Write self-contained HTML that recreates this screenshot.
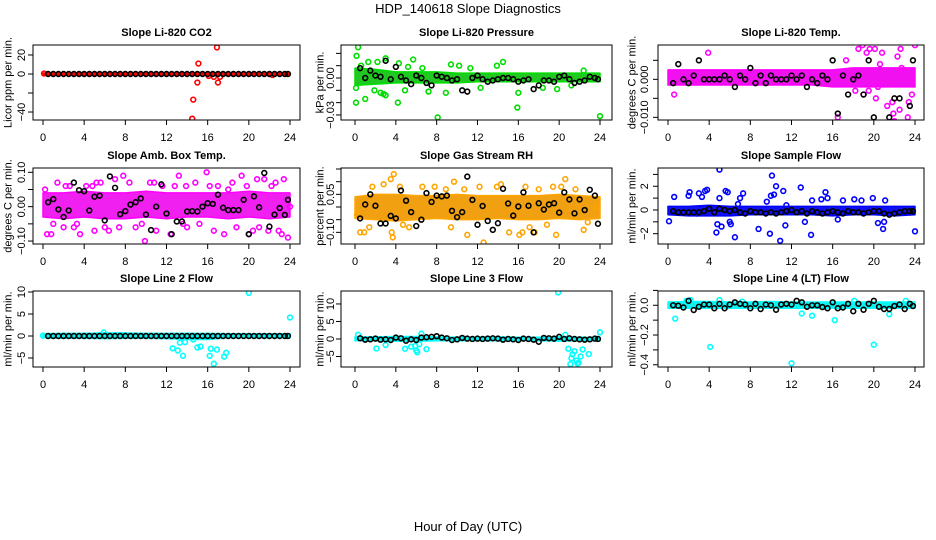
<!DOCTYPE html>
<html><head><meta charset="utf-8"><style>
html,body{margin:0;padding:0;background:#fff}
svg{display:block;font-family:"Liberation Sans",sans-serif}
</style></head><body>
<svg id="chart" width="936" height="540" viewBox="0 0 936 540" xmlns="http://www.w3.org/2000/svg">
<text x="468" y="13" text-anchor="middle" font-size="13">HDP_140618  Slope Diagnostics</text>
<text x="468" y="531" text-anchor="middle" font-size="13">Hour of Day (UTC)</text>
</svg>
<script>
// ---- shared hours for black (reference) series ----
const blkHours=[0.5,1,1.5,2,2.5,3,3.5,4,4.5,5,5.5,6,6.5,7,7.5,8,8.5,9,9.5,10,10.5,11,11.5,12,12.5,13,13.5,14,14.5,15,15.5,16,16.5,17,17.5,18,18.5,19,19.5,20,20.5,21,21.5,22,22.5,23,23.5,23.8];
const bandHours=[0,2,4,6,8,10,12,14,16,18,20,22,24];
const xTicks=[0,4,8,12,16,20,24];

// P1 CO2
const p1Lo=[-1,-1,-1,-1,-1,-1,-1,-1.2,-1.2,-1,-1,-1,-1];
const p1Hi=[1,1,1,1,1,1,1,1.2,1.2,1,1,1,1];
const p1X=[14.5,14.6,15.0,15.1,16.9,17.0,16.1,16.6,17.2,0.1,22.3];
const p1Y=[-47,-27,-9,11,28,-9,-2,-3,-3,0.5,-1];
const p1B=[0,0,0,0,0,0,0,0,0,0,0,0,0,0,0,0,0,0,0,0,0,0,0,0,0,0,0,0,0,0,0,0,0,0,0,0,0,0,0,0,0,0,0,0,0,0,0,0];
// P2 pressure
const p2Lo=[-0.006,-0.005,-0.004,-0.004,-0.004,-0.004,-0.003,-0.003,-0.003,-0.003,-0.003,-0.003,-0.003];
const p2Hi=[0.008,0.007,0.005,0.005,0.005,0.004,0.004,0.004,0.004,0.004,0.004,0.004,0.004];
const p2X=[0.3,0.15,0.1,0.1,1.0,1.9,2.8,3.0,4.2,4.3,5.7,5.2,8.1,8.9,9.4,10.2,13.9,14.5,16.0,15.9,19.8,24,3.0,1.3,2.2,6.6,7.2,11.3,12.3,18.4,21.2,22.4,0.6,2.5,4.9];
const p2Y=[0.025,0.018,-0.008,-0.02,-0.017,-0.01,-0.013,-0.014,-0.02,0.012,0.015,0.009,-0.032,-0.012,0.011,0.01,0.01,0.013,-0.012,-0.024,-0.009,-0.031,0.016,0.013,0.013,0.008,-0.011,0.008,-0.008,-0.008,-0.006,0.006,0.01,-0.012,-0.01];
const p2B=[0.008,0.0,0.006,0.002,0.001,0.014,-0.001,0.009,0.001,-0.002,-0.005,0.002,0.0,-0.004,-0.006,0.002,0.001,0.0,-0.002,-0.001,-0.01,-0.011,0.0,0.002,-0.001,-0.003,-0.002,-0.001,0.0,0.0,-0.001,-0.003,-0.002,-0.001,-0.009,-0.006,-0.002,-0.002,-0.003,0.001,0.002,-0.001,-0.004,-0.003,-0.002,0.001,0.0,-0.001];
// P3 temp
const p3Lo=[-0.0015,-0.0015,-0.0015,-0.0015,-0.0015,-0.0015,-0.0015,-0.0015,-0.002,-0.002,-0.002,-0.002,-0.002];
const p3Hi=[0.0025,0.0025,0.0025,0.0025,0.0025,0.0025,0.0025,0.0025,0.0025,0.003,0.003,0.003,0.003];
const p3X=[22.1,21.4,20.3,21.0,21.2,19.9,16.5,23.3,22.5,17.3,3.9,0.6,20.1,22.9,23.6,21.8,18.5,18.9,19.3,19.6,20.6,20.9,21.6,22.3,22.7,23.0,23.9,20.2,21.3,22.0,23.4,19.0,18.2,24.0,20.8,21.9,22.6,23.7,19.5,20.4];
const p3Y=[0.017,0.014,0.01,-0.014,-0.016,-0.015,-0.01,-0.01,-0.008,0.005,0.007,-0.004,0.008,0.01,0.01,-0.006,0.008,0.009,0.007,0.008,0.004,0.011,0.012,0.006,0.003,0.01,0.01,-0.005,-0.007,-0.011,-0.006,-0.004,-0.003,0.009,0.007,-0.009,0.008,-0.004,-0.003,-0.002];
const p3B=[-0.001,0.004,0.0,-0.001,0.001,0.005,0.0,0.0,0.0,0.0,0.001,0.0,-0.002,0.001,0.0,0.003,-0.001,0.001,-0.001,0.001,0.0,0.0,0.0,0.001,0.0,0.001,-0.002,0.0,-0.001,0.001,0.0,0.005,-0.009,0.001,-0.004,0.0,0.001,-0.004,0.005,-0.01,0.014,-0.012,-0.01,-0.005,-0.005,-0.021,-0.007,0.005];
// P4 amb temp
const p4Lo=[-0.03,-0.035,-0.03,-0.035,-0.035,-0.03,-0.035,-0.03,-0.03,-0.035,-0.03,-0.035,-0.03];
const p4Hi=[0.04,0.04,0.045,0.04,0.04,0.045,0.04,0.04,0.04,0.04,0.045,0.04,0.04];
const p4X=[0.2,0.8,1.4,2.0,3.6,4.2,5.0,5.6,6.4,7.0,7.8,9.0,9.9,10.8,11.6,12.4,13.2,13.6,14.8,15.9,16.6,17.6,18.4,19.3,20.0,20.8,21.5,22.2,22.9,23.4,23.8,1.0,2.6,3.0,4.8,6.0,8.4,9.6,10.4,12.8,14.0,15.2,17.0,18.8,19.8,21.0,22.6,23.2,0.4,7.4,11.0,16.2,24.0,2.2,5.2,13.9,18.0,20.4,21.9,3.3];
const p4Y=[0.05,-0.08,0.07,-0.06,-0.08,0.06,-0.07,0.07,-0.07,0.08,0.09,-0.06,-0.1,0.07,0.06,-0.08,0.09,-0.05,0.07,0.1,-0.07,-0.08,0.07,0.09,-0.08,0.08,0.08,0.06,-0.07,0.08,-0.09,-0.05,0.06,-0.06,0.06,-0.06,0.07,-0.05,0.07,0.06,-0.06,-0.05,0.06,-0.06,0.06,-0.06,0.07,-0.08,-0.08,-0.06,-0.07,0.06,0.0,0.06,0.07,0.06,0.05,-0.07,-0.07,-0.05];
const p4B=[0.013,0.022,-0.008,-0.03,-0.011,0.07,0.048,0.045,-0.011,0.029,0.032,-0.04,0.088,0.055,-0.022,-0.013,0.006,0.013,0.024,-0.023,-0.068,0.0,0.065,-0.02,-0.08,-0.043,-0.043,-0.014,-0.013,-0.014,0.0,0.01,0.008,0.035,-0.003,-0.01,-0.01,-0.01,0.02,-0.08,0.03,-0.002,0.098,-0.058,-0.023,-0.004,-0.024,0.02];
// P5 RH
const p5Lo=[-0.045,-0.05,-0.055,-0.05,-0.045,-0.05,-0.05,-0.045,-0.05,-0.05,-0.045,-0.05,-0.045];
const p5Hi=[0.04,0.05,0.05,0.045,0.045,0.05,0.045,0.045,0.045,0.045,0.05,0.045,0.04];
const p5X=[0.5,0.9,1.4,1.7,3.6,3.7,3.8,3.5,4.4,6.6,7.8,8.9,9.4,9.7,11.0,12.6,13.9,14.3,15.1,16.1,16.4,16.7,17.6,18.0,18.8,19.4,19.7,20.6,21.6,22.4,23.7,4.7,5.3,2.8,10.7,12.2,17.1,20.2,22.8,0.2];
const p5Y=[-0.1,-0.1,-0.08,0.08,-0.1,-0.12,0.13,0.11,0.08,0.08,0.08,0.07,-0.08,0.1,-0.11,-0.14,0.08,0.09,-0.1,-0.11,-0.1,0.08,-0.1,0.07,-0.07,0.08,-0.11,0.11,0.07,-0.09,0.0,-0.07,-0.08,0.09,0.07,0.08,-0.08,0.08,-0.06,-0.03];
const p5B=[-0.045,0.01,0.05,0.005,-0.065,-0.065,-0.035,-0.045,0.065,0.025,-0.02,-0.075,-0.05,0.055,0.02,0.045,0.042,0.045,-0.015,-0.04,-0.02,0.12,0.028,-0.07,0.004,-0.055,-0.09,-0.064,0.072,0.014,-0.034,0.002,0.058,0.005,-0.1,0.015,-0.01,0.01,0.015,-0.022,0.058,0.03,-0.025,0.03,-0.012,0.068,0.045,-0.066];
// P6 sample flow
const p6Lo=[-0.4,-0.5,-0.5,-0.5,-0.4,-0.4,-0.4,-0.4,-0.5,-0.4,-0.4,-0.5,-0.4];
const p6Hi=[0.3,0.3,0.4,0.3,0.3,0.3,0.3,0.3,0.3,0.3,0.3,0.3,0.3];
const p6X=[0.1,0.6,2.0,2.1,3.0,3.3,3.6,3.8,4.7,4.8,5.0,5.2,5.6,5.8,6.1,6.5,6.8,7.0,7.3,8.8,9.9,10.0,10.1,10.3,10.5,10.9,11.2,11.4,12.9,13.3,13.9,14.0,14.9,15.3,15.5,17.0,18.1,18.8,19.9,20.4,20.9,21.0,21.1,24.0,2.8,5.0,9.6,11.5,6.0,16.5];
const p6Y=[-0.95,1.1,1.2,1.5,1.4,1.1,1.6,1.7,-1.9,-1.2,3.4,-1.4,1.6,1.5,-1.2,-2.3,0.5,1.0,1.4,-1.6,-2.0,1.2,2.9,1.3,2.0,-2.6,1.6,-1.3,1.9,-1.0,-2.1,0.8,0.9,1.5,1.0,0.8,0.9,0.8,1.0,-1.1,-1.6,-1.0,0.8,-1.8,-0.3,1.0,0.7,0.4,-1.0,-0.8];
const p6B=[-0.1,-0.2,-0.2,-0.2,-0.2,-0.2,-0.1,0.1,-0.2,0.1,0.0,-0.1,0.0,-0.2,-0.3,-0.1,-0.2,-0.2,-0.3,-0.2,-0.3,-0.2,-0.1,0.0,-0.2,-0.1,-0.3,-0.1,-0.2,-0.3,-0.2,-0.1,-0.2,-0.3,-0.1,-0.2,-0.2,-0.3,-0.2,-0.1,-0.1,-0.3,-0.4,-0.3,-0.2,-0.1,-0.1,-0.1];
// P7 line 2 flow
const p7Lo=[-0.4,-0.5,-0.5,-0.6,-0.5,-0.5,-0.6,-0.8,-0.8,-0.4,-0.4,-0.4,-0.4];
const p7Hi=[0.5,0.6,0.6,0.7,0.7,0.6,0.6,0.6,0.6,0.5,0.5,0.5,0.5];
const p7X=[20.0,24.0,12.6,13.1,13.6,15.0,15.3,16.2,16.3,16.6,16.9,17.6,17.8,13.3,13.8,14.6,5.9,0.0];
const p7Y=[9.8,4.2,-2.8,-3.3,-4.5,-2.6,-2.4,-4.5,-2.9,-6.3,-3.1,-4.7,-3.8,-1.5,-1.4,-0.8,0.8,0.1];
const p7B=[0,0,0,0,0,0,0,0,0,0,0,0,0,0,0,0,0,0,0,0,0,0,0,0,0,0,0,0,0,0,0,0,0,0,0,0,0,0,0,0,0,0,0,0,0,0,0,0];
// P8 line 3 flow
const p8Lo=[-0.5,-0.5,-0.6,-0.7,-0.5,-0.5,-0.5,-0.5,-0.5,-0.5,-0.6,-0.5,-0.5];
const p8Hi=[0.6,0.6,0.7,0.7,0.6,0.5,0.5,0.6,0.5,0.5,0.6,0.5,0.5];
const p8X=[19.9,24.0,0.3,2.1,3.0,4.9,5.5,5.9,6.0,6.1,6.3,6.5,7.0,20.9,21.1,21.3,21.5,21.7,21.9,22.1,22.3,22.9,21.2,21.8,20.6];
const p8Y=[13.3,1.9,1.2,-2.7,-1.7,-2.8,-2.2,-2.0,-3.3,-3.8,-1.5,1.5,-2.9,-2.8,-7.2,-4.4,-3.5,-6.2,-6.8,-5.0,-3.0,-4.3,-5.5,-7.0,1.2];
const p8B=[0.2,-0.2,-0.1,0.1,-0.2,-0.1,-0.3,0.4,0.2,-0.5,-0.1,-0.3,0.4,0.5,0.6,0.8,0.4,0.2,-0.3,-0.1,0.3,0.1,0.0,0.1,0.0,0.1,0.2,0.1,-0.2,0.0,-0.1,-0.3,0.1,0.0,-0.2,-0.8,0.3,0.2,0.1,0.6,0.0,0.2,0.0,-0.1,-0.2,-0.1,0.1,0.0];
// P9 line 4 flow
const p9Lo=[-0.02,-0.02,-0.02,-0.02,-0.02,-0.02,-0.02,-0.02,-0.02,-0.02,-0.02,-0.02,-0.02];
const p9Hi=[0.022,0.025,0.025,0.022,0.022,0.025,0.022,0.022,0.022,0.022,0.022,0.022,0.022];
const p9X=[0.7,4.1,12.0,20.0,16.2,1.8,2.2,5.0,7.2,14.0,18.1,23.1,13.0,21.5];
const p9Y=[-0.09,-0.28,-0.39,-0.265,-0.1,0.03,0.035,0.035,0.025,-0.07,0.03,0.03,-0.055,-0.06];
const p9B=[0.0,-0.003,-0.015,0.03,-0.032,-0.01,0.005,0.005,-0.02,0.01,-0.02,0.005,0.02,0.01,0.005,-0.02,0.01,-0.025,0.005,0.0,-0.03,0.005,0.01,0.005,0.03,0.02,-0.01,0.0,0.0,-0.012,-0.02,0.02,-0.02,-0.015,0.01,-0.04,0.01,-0.03,0.01,0.03,-0.01,-0.025,-0.025,-0.005,0.005,-0.025,0.01,-0.005];

const panels=[
 {name:'co2',title:'Slope Li-820 CO2',ylab:'Licor ppm per min.',col:0,row:0,v0:30.5,v1:-48.4,ticks:[20,0,-20,-40],labels:['20','0','','\u221240'],c:'#ff0000',fill:'#ff0000',lo:p1Lo,hi:p1Hi,px:p1X,py:p1Y,b:p1B},
 {name:'pressure',title:'Slope Li-820 Pressure',ylab:'kPa per min.',col:1,row:0,v0:0.0268,v1:-0.0341,ticks:[0.02,0.01,0,-0.01,-0.02,-0.03],labels:['','','0.00','','','\u22120.03'],c:'#00dd00',fill:'#22c822',lo:p2Lo,hi:p2Hi,px:p2X,py:p2Y,b:p2B},
 {name:'li820-temp',title:'Slope Li-820 Temp.',ylab:'degrees C per min.',col:2,row:0,v0:0.00903,v1:-0.0107,ticks:[0.005,0,-0.005,-0.01],labels:['','0.000','','\u22120.010'],c:'#ff00ff',fill:'#f010f0',lo:p3Lo,hi:p3Hi,px:p3X,py:p3Y,b:p3B},
 {name:'amb-box-temp',title:'Slope Amb. Box Temp.',ylab:'degrees C per min.',col:0,row:1,v0:0.1125,v1:-0.1086,ticks:[0.1,0.05,0,-0.05,-0.1],labels:['0.10','','0.00','','\u22120.10'],c:'#ff00ff',fill:'#f020f0',lo:p4Lo,hi:p4Hi,px:p4X,py:p4Y,b:p4B},
 {name:'gas-stream-rh',title:'Slope Gas Stream RH',ylab:'percent per min.',col:1,row:1,v0:0.154,v1:-0.146,ticks:[0.15,0.1,0.05,0,-0.05,-0.1],labels:['','','0.05','','','\u22120.10'],c:'#ffa500',fill:'#f0a010',lo:p5Lo,hi:p5Hi,px:p5X,py:p5Y,b:p5B},
 {name:'sample-flow',title:'Slope Sample Flow',ylab:'ml/min per min.',col:2,row:1,v0:3.54,v1:-2.87,ticks:[3,2,1,0,-1,-2],labels:['','2','','0','','\u22122'],c:'#0000ff',fill:'#1010f0',lo:p6Lo,hi:p6Hi,px:p6X,py:p6Y,b:p6B},
 {name:'line2-flow',title:'Slope Line 2 Flow',ylab:'ml/min per min.',col:0,row:2,v0:10.23,v1:-7.05,ticks:[10,5,0,-5],labels:['10','5','0','\u22125'],c:'#00ffff',fill:'#10f0f0',lo:p7Lo,hi:p7Hi,px:p7X,py:p7Y,b:p7B},
 {name:'line3-flow',title:'Slope Line 3 Flow',ylab:'ml/min per min.',col:1,row:2,v0:13.7,v1:-8.0,ticks:[10,5,0,-5],labels:['10','5','0','\u22125'],c:'#00ffff',fill:'#10f0f0',lo:p8Lo,hi:p8Hi,px:p8X,py:p8Y,b:p8B},
 {name:'line4-flow',title:'Slope Line 4 (LT) Flow',ylab:'ml/min per min.',col:2,row:2,v0:0.096,v1:-0.415,ticks:[0.1,0,-0.1,-0.2,-0.3,-0.4],labels:['','0.0','','\u22120.2','','\u22120.4'],c:'#00ffff',fill:'#10f0f0',lo:p9Lo,hi:p9Hi,px:p9X,py:p9Y,b:p9B}
];
const colGeom=[{l:33,r:300,x0:43,x24:290,tl:21,yl:4},{l:341,r:612,x0:355,x24:600,tl:330,yl:316},{l:658,r:924,x0:668,x24:915,tl:644,yl:628}];
const rowGeom=[{t:45,b:120},{t:168,b:244},{t:291,b:367}];
const NS='http://www.w3.org/2000/svg';
const svg=document.getElementById('chart');
function mk(tag,attrs,parent){const e=document.createElementNS(NS,tag);for(const k in attrs)e.setAttribute(k,attrs[k]);(parent||svg).appendChild(e);return e;}

panels.forEach(p=>{
  const cg=colGeom[p.col], rg=rowGeom[p.row];
  const xs=h=>cg.x0+(h/24)*(cg.x24-cg.x0);
  const ys=v=>rg.t+(p.v0-v)/(p.v0-p.v1)*(rg.b-rg.t);
  const g=mk('g',{});
  
  
  const cp=mk('clipPath',{id:'cp-'+p.name},g);
  mk('rect',{x:cg.l,y:rg.t,width:cg.r-cg.l,height:rg.b-rg.t},cp);
  const t=mk('text',{x:(cg.l+cg.r)/2,y:rg.t-9,'text-anchor':'middle','font-size':11,'font-weight':'bold'},g);
  t.textContent=p.title;
  
  
  const yl=mk('text',{x:cg.yl,y:(rg.t+rg.b)/2,'text-anchor':'middle','font-size':11,transform:`rotate(-90 ${cg.yl} ${(rg.t+rg.b)/2})`,dy:'0.7em'},g);
  yl.textContent=p.ylab;
  
  
  const data=mk('g',{'clip-path':`url(#cp-${p.name})`},g);
  let pts=[];
  bandHours.forEach((h,i)=>pts.push(xs(h)+','+ys(p.hi[i])));
  for(let i=bandHours.length-1;i>=0;i--)pts.push(xs(bandHours[i])+','+ys(p.lo[i]));
  const band=mk('polygon',{points:pts.join(' '),fill:p.fill,stroke:p.c,'stroke-width':1.5,'stroke-linejoin':'round'},data);
  
  
  p.px.forEach((h,i)=>{
    const c=mk('circle',{cx:xs(h),cy:ys(p.py[i]),r:2.4,fill:'none',stroke:p.c,'stroke-width':1.6},data);
    
    
  });
  blkHours.forEach((h,i)=>{
    const c=mk('circle',{cx:xs(h),cy:ys(p.b[i]),r:2.4,fill:'none',stroke:'#000','stroke-width':1.6},data);
    
    
  });
  const box=mk('rect',{x:cg.l,y:rg.t,width:cg.r-cg.l,height:rg.b-rg.t,fill:'none',stroke:'#000','stroke-width':1},g);
  
  
  xTicks.forEach(h=>{
    mk('line',{x1:xs(h),x2:xs(h),y1:rg.b,y2:rg.b+5,stroke:'#000'},g);
    const tx=mk('text',{x:xs(h),y:rg.b+21,'text-anchor':'middle','font-size':11},g);
    tx.textContent=h;
    
    
  });
  p.ticks.forEach((v,i)=>{
    const y=ys(v);
    mk('line',{x1:cg.l-5,x2:cg.l,y1:y,y2:y,stroke:'#000'},g);
    if(p.labels[i]){
      const tx=mk('text',{x:cg.tl,y:y,'text-anchor':'middle','font-size':11,dy:'0.35em',transform:`rotate(-90 ${cg.tl} ${y})`},g);
      tx.textContent=p.labels[i];
      
      
    }
  });
});
</script>
</body></html>
